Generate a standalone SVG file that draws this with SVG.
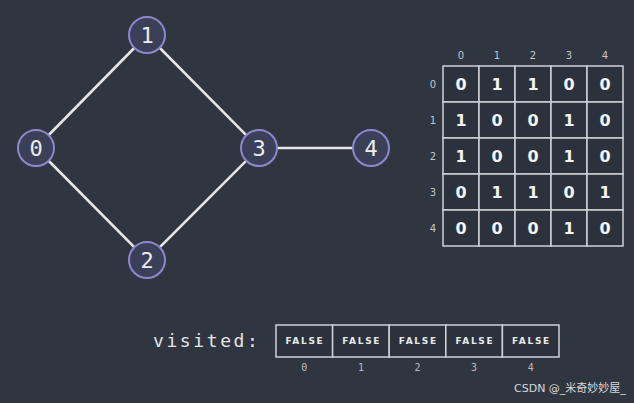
<svg xmlns="http://www.w3.org/2000/svg" width="634" height="403" viewBox="0 0 634 403">
<style>
.node circle{fill:#3b4059;stroke:#8b89cc;stroke-width:2}
.node text{font-family:"DejaVu Sans Mono",monospace;font-size:22px;fill:#ececec;text-anchor:middle;dominant-baseline:central}
.edge{stroke:#e6e6e6;stroke-width:2.6;fill:none}
.cell{fill:#2b323c;stroke:#cfd2d6;stroke-width:1.5}
.val{font-family:"DejaVu Sans",sans-serif;font-weight:bold;font-size:16px;fill:#f4f4f4;text-anchor:middle;dominant-baseline:central}
.idx{font-family:"DejaVu Sans",sans-serif;font-size:10px;fill:#c4c7cc;text-anchor:middle;dominant-baseline:central}
.vidx{font-family:"DejaVu Sans Mono",monospace;font-size:10px;fill:#b8bcc2;text-anchor:middle;dominant-baseline:central}
.fl{font-family:"DejaVu Sans",sans-serif;font-weight:bold;font-size:9px;letter-spacing:1.7px;fill:#e8e8e8;text-anchor:middle;dominant-baseline:central}
</style>
<rect width="634" height="403" fill="#2f3640"/>
<g id="connectors">
<line class="edge" x1="36" y1="148" x2="147" y2="35"/>
<line class="edge" x1="36" y1="148" x2="147" y2="260"/>
<line class="edge" x1="147" y1="35" x2="259" y2="148"/>
<line class="edge" x1="147" y1="260" x2="259" y2="148"/>
<line class="edge" x1="259" y1="148" x2="371" y2="148"/>
</g>
<g id="node0" class="node"><circle cx="36" cy="148" r="18"/><text x="36" y="148">0</text></g>
<g id="node1" class="node"><circle cx="147" cy="35" r="18"/><text x="147" y="35">1</text></g>
<g id="node2" class="node"><circle cx="147" cy="260" r="18"/><text x="147" y="260">2</text></g>
<g id="node3" class="node"><circle cx="259" cy="148" r="18"/><text x="259" y="148">3</text></g>
<g id="node4" class="node"><circle cx="371" cy="148" r="18"/><text x="371" y="148">4</text></g>
<g id="matrix">
<text class="idx" x="461" y="55">0</text><text class="idx" x="497" y="55">1</text><text class="idx" x="533" y="55">2</text><text class="idx" x="569" y="55">3</text><text class="idx" x="605" y="55">4</text>
<text class="idx" x="433" y="84">0</text><text class="idx" x="433" y="120">1</text><text class="idx" x="433" y="156">2</text><text class="idx" x="433" y="192">3</text><text class="idx" x="433" y="228">4</text>
<rect class="cell" x="443" y="66" width="36" height="36"/><rect class="cell" x="479" y="66" width="36" height="36"/><rect class="cell" x="515" y="66" width="36" height="36"/><rect class="cell" x="551" y="66" width="36" height="36"/><rect class="cell" x="587" y="66" width="36" height="36"/>
<rect class="cell" x="443" y="102" width="36" height="36"/><rect class="cell" x="479" y="102" width="36" height="36"/><rect class="cell" x="515" y="102" width="36" height="36"/><rect class="cell" x="551" y="102" width="36" height="36"/><rect class="cell" x="587" y="102" width="36" height="36"/>
<rect class="cell" x="443" y="138" width="36" height="36"/><rect class="cell" x="479" y="138" width="36" height="36"/><rect class="cell" x="515" y="138" width="36" height="36"/><rect class="cell" x="551" y="138" width="36" height="36"/><rect class="cell" x="587" y="138" width="36" height="36"/>
<rect class="cell" x="443" y="174" width="36" height="36"/><rect class="cell" x="479" y="174" width="36" height="36"/><rect class="cell" x="515" y="174" width="36" height="36"/><rect class="cell" x="551" y="174" width="36" height="36"/><rect class="cell" x="587" y="174" width="36" height="36"/>
<rect class="cell" x="443" y="210" width="36" height="36"/><rect class="cell" x="479" y="210" width="36" height="36"/><rect class="cell" x="515" y="210" width="36" height="36"/><rect class="cell" x="551" y="210" width="36" height="36"/><rect class="cell" x="587" y="210" width="36" height="36"/>
<text class="val" x="461" y="84">0</text><text class="val" x="497" y="84">1</text><text class="val" x="533" y="84">1</text><text class="val" x="569" y="84">0</text><text class="val" x="605" y="84">0</text>
<text class="val" x="461" y="120">1</text><text class="val" x="497" y="120">0</text><text class="val" x="533" y="120">0</text><text class="val" x="569" y="120">1</text><text class="val" x="605" y="120">0</text>
<text class="val" x="461" y="156">1</text><text class="val" x="497" y="156">0</text><text class="val" x="533" y="156">0</text><text class="val" x="569" y="156">1</text><text class="val" x="605" y="156">0</text>
<text class="val" x="461" y="192">0</text><text class="val" x="497" y="192">1</text><text class="val" x="533" y="192">1</text><text class="val" x="569" y="192">0</text><text class="val" x="605" y="192">1</text>
<text class="val" x="461" y="228">0</text><text class="val" x="497" y="228">0</text><text class="val" x="533" y="228">0</text><text class="val" x="569" y="228">1</text><text class="val" x="605" y="228">0</text>
</g>
<g id="visited">
<text x="153" y="347" font-family="DejaVu Sans Mono, monospace" font-size="18" fill="#e4e4e4" letter-spacing="2.6">visited:</text>
<rect class="cell" x="276" y="325" width="56.6" height="32"/><rect class="cell" x="332.6" y="325" width="56.6" height="32"/><rect class="cell" x="389.2" y="325" width="56.6" height="32"/><rect class="cell" x="445.8" y="325" width="56.6" height="32"/><rect class="cell" x="502.4" y="325" width="56.6" height="32"/>
<text class="fl" x="305" y="341">FALSE</text><text class="fl" x="361.7" y="341">FALSE</text><text class="fl" x="418.3" y="341">FALSE</text><text class="fl" x="474.9" y="341">FALSE</text><text class="fl" x="531.5" y="341">FALSE</text>
<text class="vidx" x="304.3" y="367">0</text><text class="vidx" x="360.9" y="367">1</text><text class="vidx" x="417.5" y="367">2</text><text class="vidx" x="474.1" y="367">3</text><text class="vidx" x="530.7" y="367">4</text>
</g>
<text x="514" y="392" font-family="DejaVu Sans, Noto Sans CJK SC, sans-serif" font-size="11" fill="#d8dadc">CSDN @_米奇妙妙屋_</text>
</svg>
